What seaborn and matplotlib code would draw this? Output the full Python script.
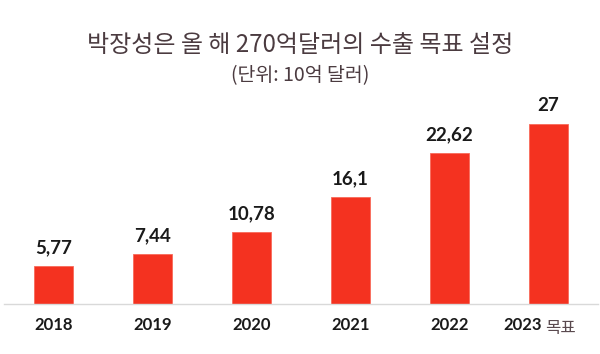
import matplotlib
matplotlib.use("Agg")
import matplotlib.pyplot as plt
import seaborn as sns
import pandas as pd

years = ["2018", "2019", "2020", "2021", "2022", "2023"]
values = [5.77, 7.44, 10.78, 16.1, 22.62, 27]
value_labels = ["5,77", "7,44", "10,78", "16,1", "22,62", "27"]
target_note = "목표"

title = "박장성은 올 해 270억달러의 수출 목표 설정"
subtitle = "(단위: 10억 달러)"

sns.set_style("white")
plt.rcParams["font.family"] = ["Noto Sans CJK KR", "DejaVu Sans"]

df = pd.DataFrame({"year": years, "value": values})

fig = plt.figure(figsize=(6, 3.54), dpi=100)
ax = fig.add_axes([4 / 600, 50 / 354, 594 / 600, 200 / 354])

sns.barplot(data=df, x="year", y="value", color="#f43220", width=0.385,
            edgecolor="#f86a5a", linewidth=0.6, saturation=1, ax=ax)

ax.set_ylim(0, 30)
ax.set_xlim(-0.5, 5.5)
ax.set_xlabel("")
ax.set_ylabel("")
ax.set_yticks([])
for side in ["top", "left", "right"]:
    ax.spines[side].set_visible(False)
ax.spines["bottom"].set_color("#d9d9d9")
ax.spines["bottom"].set_linewidth(1)

# tick labels: last one is drawn by hand as "2023" + "목표"
ax.tick_params(axis="x", length=0, pad=9)
ticklabels = list(years[:-1]) + [""]
ax.set_xticks(range(len(years)))
ax.set_xticklabels(ticklabels, fontsize=12, fontweight="bold",
                   color="#1a1a1a", family=["Lato", "Noto Sans CJK KR"])

last = len(years) - 1
ax.annotate(years[-1], xy=(last, 0), xytext=(-7, -12.5), textcoords="offset pixels",
            ha="right", va="top", fontsize=12, fontweight="bold",
            color="#1a1a1a", family=["Lato", "DejaVu Sans"])
ax.annotate(target_note, xy=(last, 0), xytext=(-3, -24.5), textcoords="offset pixels",
            ha="left", va="center", fontsize=12, color="#5a4a4f")

for i, (v, t) in enumerate(zip(values, value_labels)):
    ax.annotate(t, xy=(i, v), xytext=(0, 7), textcoords="offset points",
                ha="center", va="bottom", fontsize=13.5, fontweight="bold",
                color="#1a1a1a", family=["Lato", "DejaVu Sans"])

fig.text(0.5, 1 - 45 / 354, title, ha="center", va="center",
         fontsize=17.3, color="#4b3b40")
fig.text(0.5, 1 - 76 / 354, subtitle, ha="center", va="center",
         fontsize=14, color="#4b3b40")

fig.savefig("out.png", dpi=100)
